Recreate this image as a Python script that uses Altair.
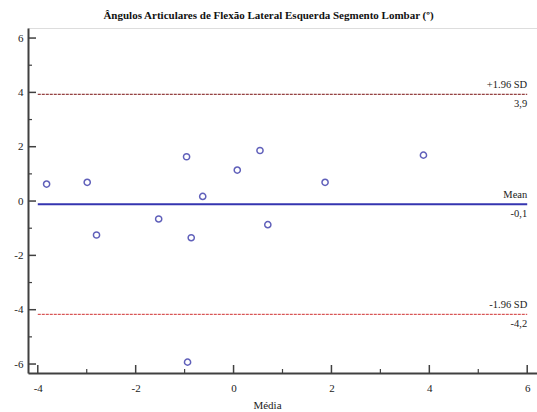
import altair as alt
import pandas as pd

# Data (Bland-Altman)
media = [-3.82, -2.99, -2.80, -1.53, -0.96, -0.865, -0.63, 0.076, 0.54, 0.70, 1.87, 3.88, -0.94]
diff = [0.625, 0.69, -1.25, -0.66, 1.63, -1.35, 0.17, 1.14, 1.86, -0.87, 0.69, 1.69, -5.93]

mean_val = -0.12
upper_val = 3.93
lower_val = -4.17

x_major = [-4, -2, 0, 2, 4, 6]
x_minor = [-3, -1, 1, 3, 5]
y_major = [-6, -4, -2, 0, 2, 4, 6]
y_minor = [-5, -3, -1, 1, 3, 5]

W, H = 509, 345
FONT = "Liberation Serif"
LBL = "datum.value < 0 ? '-' + abs(datum.value) : '' + datum.value"

xs = alt.Scale(domain=[-4.2, 6.2], nice=False, zero=False)
ys = alt.Scale(domain=[-6.33, 6.37], nice=False, zero=False)

pts = pd.DataFrame({"media": media, "diff": diff})

base_pts = alt.Chart(pts).mark_point(
    shape="circle", filled=False, size=38, color="#1e1e9e", strokeWidth=1.5
).encode(
    x=alt.X("media:Q", scale=xs, axis=alt.Axis(
        values=x_major, title="Média", ticks=False, grid=False, labelExpr=LBL,
        domainColor="#404040", domainWidth=2, labelFont=FONT, labelFontSize=11,
        labelColor="#222", labelPadding=9, titleFont=FONT, titleFontSize=11,
        titleFontWeight="normal", titleColor="#222", titleX=239, titleY=32,
        titleBaseline="middle", labelFlush=False)),
    y=alt.Y("diff:Q", scale=ys, axis=alt.Axis(
        values=y_major, title=None, ticks=False, grid=False, labelExpr=LBL,
        domainColor="#404040", domainWidth=2, labelFont=FONT, labelFontSize=11,
        labelColor="#222", labelPadding=5, labelFlush=False)),
)

lines = pd.DataFrame({
    "y": [upper_val, mean_val, lower_val],
    "x1": [-4, -4, -4],
    "x2": [6, 6, 6],
    "kind": ["upper", "mean", "lower"],
})

upper_rule = alt.Chart(lines[lines.kind == "upper"]).mark_rule(
    color="#7a1010", strokeWidth=1, strokeDash=[3, 1]
).encode(x=alt.X("x1:Q", scale=xs), x2="x2:Q", y=alt.Y("y:Q", scale=ys))
lower_rule = alt.Chart(lines[lines.kind == "lower"]).mark_rule(
    color="#d03030", strokeWidth=1, strokeDash=[3, 1]
).encode(x=alt.X("x1:Q", scale=xs), x2="x2:Q", y=alt.Y("y:Q", scale=ys))
mean_rule = alt.Chart(lines[lines.kind == "mean"]).mark_rule(
    color="#3535b0", strokeWidth=2
).encode(x=alt.X("x1:Q", scale=xs), x2="x2:Q", y=alt.Y("y:Q", scale=ys))

labels_top = pd.DataFrame({
    "x": [6, 6, 6], "y": [upper_val, mean_val, lower_val],
    "t": ["+1.96 SD", "Mean", "-1.96 SD"],
})
labels_bot = pd.DataFrame({
    "x": [6, 6, 6], "y": [upper_val, mean_val, lower_val],
    "t": ["3,9", "-0,1", "-4,2"],
})
txt_top = alt.Chart(labels_top).mark_text(
    align="right", baseline="middle", dy=-9, font=FONT, fontSize=10.5, color="#222"
).encode(x=alt.X("x:Q", scale=xs), y=alt.Y("y:Q", scale=ys), text="t:N")
txt_bot = alt.Chart(labels_bot).mark_text(
    align="right", baseline="middle", dy=10, font=FONT, fontSize=10.5, color="#222"
).encode(x=alt.X("x:Q", scale=xs), y=alt.Y("y:Q", scale=ys), text="t:N")

# inward ticks
xticks_major = alt.Chart(pd.DataFrame({"v": x_major})).mark_rule(
    color="#404040", strokeWidth=1.5
).encode(x=alt.X("v:Q", scale=xs), y=alt.value(H), y2=alt.value(H - 8))
xticks_minor = alt.Chart(pd.DataFrame({"v": x_minor})).mark_rule(
    color="#404040", strokeWidth=1.2
).encode(x=alt.X("v:Q", scale=xs), y=alt.value(H), y2=alt.value(H - 4))
yticks_major = alt.Chart(pd.DataFrame({"v": y_major})).mark_rule(
    color="#404040", strokeWidth=1.5
).encode(y=alt.Y("v:Q", scale=ys), x=alt.value(0), x2=alt.value(8))
yticks_minor = alt.Chart(pd.DataFrame({"v": y_minor})).mark_rule(
    color="#404040", strokeWidth=1.2
).encode(y=alt.Y("v:Q", scale=ys), x=alt.value(0), x2=alt.value(4))

chart = alt.layer(
    base_pts, upper_rule, lower_rule, mean_rule, txt_top, txt_bot,
    xticks_major, xticks_minor, yticks_major, yticks_minor
).properties(
    width=W, height=H,
    title=alt.TitleParams(
        "Ângulos Articulares de Flexão Lateral Esquerda Segmento Lombar (º)",
        font=FONT, fontSize=11, fontWeight="bold", color="#111",
        anchor="middle", offset=7, dx=-14
    ),
    autosize=alt.AutoSizeParams(type="none"),
    padding={"left": 28, "top": 28, "right": 0, "bottom": 39},
).configure_view(stroke=None).configure(background="white")

chart.save("out.html", embed_options={"renderer": "svg", "actions": False})
